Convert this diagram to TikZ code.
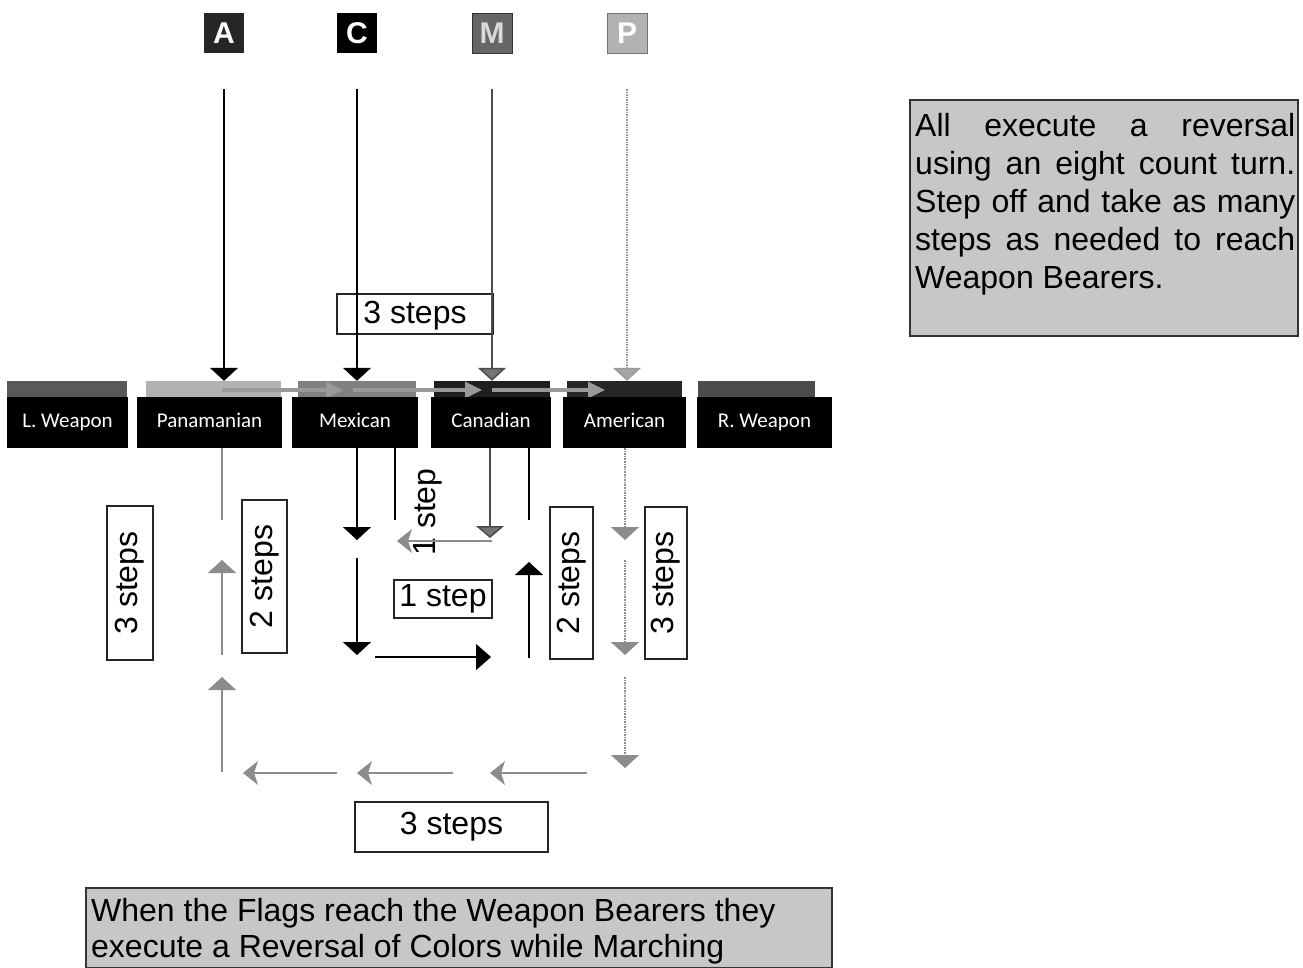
\documentclass[tikz,border=0pt]{standalone}
\usepackage{fontspec}
\setmainfont{Liberation Sans}
\newfontfamily\lblfont{Carlito}
\usetikzlibrary{arrows.meta}
\newcommand{\stepfont}{\fontsize{32}{37}\selectfont}
\newcommand{\jline}[1]{\makebox[380pt][s]{#1}}
\begin{document}
\begin{tikzpicture}[x=1pt, y=-1pt,
  flagbox/.style={minimum size=40pt, inner sep=0pt, font=\bfseries\fontsize{30}{30}\selectfont},
  oldstrip/.style={minimum height=18pt, inner sep=0pt},
  tag/.style={fill=black, text=white, inner sep=0pt, minimum height=51pt, text height=14pt, text depth=4pt, font=\lblfont\fontsize{21}{21}\selectfont},
  stepbox/.style={draw=black!85, line width=1.8pt, inner sep=0pt, font=\stepfont},
  shade/.style={draw=black!80, line width=1.2pt, fill=black!22},
  blk/.style={black, line width=1.5pt},
  gry/.style={black!45, line width=1.6pt},
  wide/.style={-{Triangle[width=28pt,length=13pt]}},
  back/.style={-{Stealth[width=24pt,length=15pt,inset=4pt]}},
  ribbon/.style={black!40, line width=3.5pt, -{Triangle[width=16pt,length=17pt]}}]
\useasboundingbox (0,0) rectangle (1303,967);

% flags
\node[flagbox, fill=black!85, text=white] (fA) at (224,33) {A};
\node[flagbox, fill=black, text=white] (fC) at (357,33) {C};
\node[flagbox, fill=black!60, draw=black!80, text=black!15] (fM) at (492,33) {M};
\node[flagbox, fill=black!30, draw=black!55, text=white] (fP) at (627,33) {P};

% old line-up
\node[oldstrip, fill=black!65, minimum width=120pt] (sLW) at (67,390) {};
\node[oldstrip, fill=black!30, minimum width=135pt] (sPan) at (213.5,390) {};
\node[oldstrip, fill=black!50, minimum width=118pt] (sMex) at (357,390) {};
\node[oldstrip, fill=black!88, minimum width=116pt] (sCan) at (492,390) {};
\node[oldstrip, fill=black!85, minimum width=115pt] (sAm) at (624.5,390) {};
\node[oldstrip, fill=black!70, minimum width=117pt] (sRW) at (756.5,390) {};

\draw[ribbon] (222,390) -- (343,390);
\draw[ribbon] (353,390) -- (482,390);
\draw[ribbon] (492,390) -- (605,390);

% flags march in
\node[stepbox, minimum width=156pt, minimum height=40pt, text height=25pt, text depth=6pt] (top3) at (415,314) {3 steps};
\draw[blk, wide] ([yshift=-36pt]fA.south) -- (fA.south |- sPan.north);
\draw[blk, wide] ([yshift=-36pt]fC.south) -- (fC.south |- sMex.north);
\draw[black!70, line width=1.5pt, -{Triangle[width=28pt,length=13pt,fill=black!55]}] ([yshift=-36pt]fM.south) -- (fM.south |- sCan.north);
\draw[black!40, line width=1.5pt, densely dotted, -{Triangle[width=28pt,length=13pt,fill=black!35]}] ([yshift=-36pt]fP.south) -- (fP.south |- sAm.north);

% name tags
\node[tag, minimum width=121pt] (lw) at (67.5,422.5) {L. Weapon};
\node[tag, minimum width=145pt] (pan) at (209.5,422.5) {Panamanian};
\node[tag, minimum width=126pt] (mex) at (355,422.5) {Mexican};
\node[tag, minimum width=120pt] (can) at (491,422.5) {Canadian};
\node[tag, minimum width=123pt] (am) at (624.5,422.5) {American};
\node[tag, minimum width=135pt] (rw) at (764.5,422.5) {R. Weapon};

% reversal
\node[stepbox, rotate=90, minimum width=154pt, minimum height=46pt] (l3) at (130,583) {3 steps};
\node[stepbox, rotate=90, minimum width=153pt, minimum height=45pt] (l2) at (264.5,576.5) {2 steps};
\node[stepbox, rotate=90, minimum width=152pt, minimum height=43pt] (r2) at (571.5,583) {2 steps};
\node[stepbox, rotate=90, minimum width=152pt, minimum height=42pt] (r3) at (666,583) {3 steps};
\node[stepbox, minimum width=98pt, minimum height=38pt] (one) at (443,599) {1 step};
\node[stepbox, minimum width=193pt, minimum height=50pt] (bot3) at (451.5,827) {3 steps};
\node[rotate=90, inner sep=0pt, font=\stepfont] (side1) at (428,512) {1 step};

\draw[gry] (222,448) -- (222,520);
\draw[gry, wide] (222,655) -- (222,560);
\draw[gry, wide] (222,772) -- (222,677);

\draw[blk, wide] (357,448) -- (357,540);
\draw[blk, wide] (357,558) -- (357,655);
\draw[blk, -{Triangle[width=26pt,length=15pt]}] (375,657) -- (491,657);
\draw[black, line width=1.2pt] (395,448) -- (395,520);

\draw[black!70, line width=1.5pt, -{Triangle[width=28pt,length=12pt,fill=black!55]}] (490,448) -- (490,538);
\draw[gry, back] (492,541) -- (397,541);
\draw[black, line width=1.2pt] (529,448) -- (529,520);
\draw[blk, wide] (529,658) -- (529,562);

\draw[gry, densely dotted, wide] (625,448) -- (625,540);
\draw[gry, densely dotted, wide] (625,560) -- (625,655);
\draw[gry, densely dotted, wide] (625,677) -- (625,768);

\draw[gry, back] (587,773) -- (490,773);
\draw[gry, back] (453,773) -- (357,773);
\draw[gry, back] (337,773) -- (243,773);

% notes
\node[shade, minimum width=388pt, minimum height=236pt] (note) at (1104,218) {};
\node[anchor=north west, inner sep=0pt, align=left, font=\fontsize{32}{38}\selectfont] (notetext) at (915,113)
  {\jline{All execute a reversal}\\ \jline{using an eight count turn.}\\ \jline{Step off and take as many}\\ \jline{steps as needed to reach}\\ Weapon Bearers.};
\node[shade, minimum width=746pt, minimum height=80pt] (caption) at (459,928) {};
\node[anchor=north west, inner sep=0pt, align=left, font=\fontsize{32}{36}\selectfont] (captext) at (91,898)
  {When the Flags reach the Weapon Bearers they\\ execute a Reversal of Colors while Marching};
\end{tikzpicture}
\end{document}
